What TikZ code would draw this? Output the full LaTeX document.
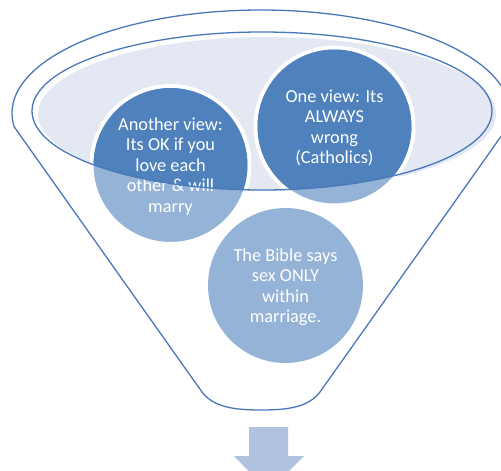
\documentclass[tikz,border=0pt]{standalone}
\usepackage{fontspec}
\setmainfont{Carlito}
\definecolor{darkb}{RGB}{79,129,189}
\definecolor{lightb}{RGB}{149,179,215}
\definecolor{ellfill}{RGB}{227,232,242}
\definecolor{arrowb}{RGB}{176,194,222}
\definecolor{lineb}{RGB}{72,120,186}
\begin{document}
\begin{tikzpicture}[x=1pt,y=-1pt,
  funnelline/.style={draw=lineb, line width=1.3pt},
  bubble/.style={circle, minimum size=158pt, inner sep=0pt, fill=lightb, draw=white, line width=4pt},
  bubbletext/.style={text=white, align=center, inner sep=0pt, yshift=-1.5pt, font=\fontsize{18.3}{20.5}\selectfont}]
\useasboundingbox (0,0) rectangle (501,471);
\clip (0,0) rectangle (501,471);
% outer funnel
\draw[funnelline] plot[domain=187.8:-7.8, samples=120, smooth] ({261+249*cos(\x)},{113-103*sin(\x)})
  -- (320,392) .. controls (308,408) and (285,410) .. (261,410)
  .. controls (237,410) and (214,408) .. (202,392) -- cycle;
% inner ellipse fill
\fill[ellfill] (267,114) ellipse [x radius=229, y radius=77];
% bubbles
\node[bubble] (b1) at (170.5,165) {};
\node[bubble] (b2) at (334.5,126.5) {};
\node[bubble, draw=none, minimum size=155pt] (b3) at (285.5,285.5) {};
\begin{scope}
  \clip (262,111) ellipse [x radius=230, y radius=79];
  \fill[darkb] (b1.center) circle [radius=77];
  \fill[darkb] (b2.center) circle [radius=77];
\end{scope}
\node[bubbletext] (t1) at (b1.center) {Another view:\\Its OK if you\\love each\\other \& will\\marry};
\node[bubbletext] (t2) at (b2.center) {One view: Its\\ALWAYS\\wrong\\(Catholics)};
\node[bubbletext] (t3) at (b3.center) {The Bible says\\sex ONLY\\within\\marriage.};
% inner ellipse outline
\draw[funnelline] (262,111) ellipse [x radius=230, y radius=79];
% arrow
\fill[arrowb] (249,427) -- (288,427) -- (288,456) -- (304,456) -- (268.5,491.5) -- (234,456) -- (249,456) -- cycle;
\end{tikzpicture}
\end{document}
